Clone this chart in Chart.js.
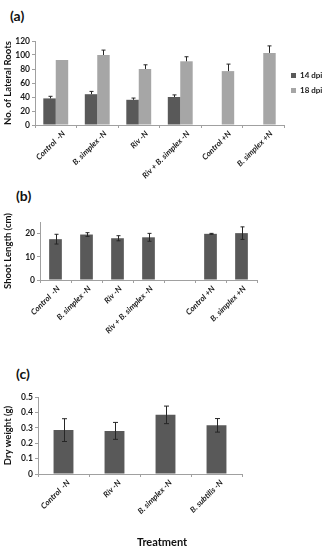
<!DOCTYPE html>
<html>
<head>
<meta charset="utf-8">
<script src="https://cdn.jsdelivr.net/npm/chart.js@4.4.1/dist/chart.umd.min.js"></script>
<style>
  body { margin: 0; background: #fff; width: 323px; height: 550px; position: relative; overflow: hidden; font-family: Lato, "Open Sans", sans-serif; }
  .wrap { position: absolute; left: 0; width: 323px; }
  .tag { position: absolute; font-weight: bold; font-size: 14px; color: #111; }
  #treat { position: absolute; top: 535px; left: 162px; transform: translateX(-50%); font-weight: bold; font-size: 11px; color: #111; }
</style>
</head>
<body>
<div class="tag" style="left:10px;top:7px;">(a)</div>
<div class="tag" style="left:16px;top:187px;">(b)</div>
<div class="tag" style="left:16px;top:365px;">(c)</div>
<div class="wrap" style="top:28px;height:160px;"><canvas id="chartA"></canvas></div>
<div class="wrap" style="top:180px;height:180px;"><canvas id="chartB"></canvas></div>
<div class="wrap" style="top:360px;height:190px;"><canvas id="chartC"></canvas></div>
<div id="treat">Treatment</div>
<script>
// (a) lateral roots
var rootLabels = ['Control  -N', 'B. simplex -N', 'Riv -N', 'Riv + B. simplex -N', 'Control +N', 'B. simplex +N'];
var roots14 = [38, 44, 36, 40, null, null];
var roots14Err = [3, 4, 2.5, 3, 0, 0];
var roots18 = [93, 100, 80, 91, 77, 103];
var roots18Err = [0, 7, 6, 6.5, 10, 10];

// (b) shoot length
var shootLabels = ['Control  -N', 'B. simplex -N', 'Riv -N', 'Riv + B. simplex -N', '', 'Control +N', 'B. simplex +N'];
var shootLen = [17.6, 19.6, 18.0, 18.4, null, 19.9, 20.2];
var shootErr = [2.1, 0.8, 1.1, 1.7, 0, 0.2, 2.7];

// (c) dry weight
var dryLabels = ['Control  -N', 'Riv -N', 'B. simplex -N', 'B. subtilis -N'];
var dryWeight = [0.285, 0.28, 0.384, 0.316];
var dryErr = [0.074, 0.055, 0.057, 0.044];

var DARK = '#595959';
var LIGHT = '#a6a6a6';
var FONT = 'Lato, "Open Sans", sans-serif';

var errorBars = {
  id: 'errorBars',
  afterDatasetsDraw: function(chart) {
    var ctx = chart.ctx;
    var y = chart.scales.y;
    chart.data.datasets.forEach(function(ds, di) {
      if (!ds.errors) return;
      var meta = chart.getDatasetMeta(di);
      meta.data.forEach(function(bar, i) {
        var v = ds.data[i], e = ds.errors[i];
        if (v == null || !e) return;
        var top = y.getPixelForValue(v + e);
        var bot = ds.upOnly ? y.getPixelForValue(v) : y.getPixelForValue(v - e);
        var x = Math.round(bar.x) + 0.5;
        var cap = ds.capWidth || 2;
        ctx.save();
        ctx.strokeStyle = '#262626';
        ctx.lineWidth = 1;
        ctx.beginPath();
        ctx.moveTo(x, top); ctx.lineTo(x, bot);
        ctx.moveTo(x - cap, top); ctx.lineTo(x + cap, top);
        if (!ds.upOnly) { ctx.moveTo(x - cap, bot); ctx.lineTo(x + cap, bot); }
        ctx.stroke();
        ctx.restore();
      });
    });
  }
};

function xAxis(height, shift) {
  return {
    grid: { drawOnChartArea: false, drawTicks: true, tickLength: 3, color: '#a0a0a0', offset: true },
    border: { color: '#a0a0a0' },
    ticks: { minRotation: 45, maxRotation: 45, autoSkip: false, padding: 1, labelOffset: shift, color: '#1a1a1a',
             font: { family: FONT, size: 8, weight: 'bold', style: 'italic' } },
    afterFit: function(s) { s.height = height; }
  };
}

function yAxis(width, title, max, step) {
  return {
    min: 0, max: max,
    grid: { drawOnChartArea: false, drawTicks: true, tickLength: 3, color: '#a0a0a0' },
    border: { color: '#a0a0a0' },
    ticks: { stepSize: step, padding: 2, color: '#1a1a1a', font: { family: FONT, size: 8.5, weight: 'bold' } },
    title: { display: true, text: title, color: '#111', padding: { top: 2, bottom: 0 },
             font: { family: FONT, size: 9.5, weight: 'bold' } },
    afterFit: function(s) { s.width = width; }
  };
}

new Chart(document.getElementById('chartA'), {
  type: 'bar',
  data: {
    labels: rootLabels,
    datasets: [
      { label: '14 dpi', data: roots14, errors: roots14Err, upOnly: true, capWidth: 2, backgroundColor: DARK,
        categoryPercentage: 0.6, barPercentage: 1.0 },
      { label: '18 dpi', data: roots18, errors: roots18Err, upOnly: true, capWidth: 2, backgroundColor: LIGHT,
        categoryPercentage: 0.6, barPercentage: 1.0 }
    ]
  },
  options: {
    responsive: true, maintainAspectRatio: false, animation: false,
    layout: { padding: { top: 13, right: 0, left: 0, bottom: 0 } },
    plugins: {
      legend: { position: 'right', fullSize: false, maxWidth: 39,
        labels: { boxWidth: 5, boxHeight: 5, padding: 7, color: '#1a1a1a',
                  font: { family: FONT, size: 8, weight: 'bold', lineHeight: 0.4 } } },
      tooltip: { enabled: false }
    },
    scales: { x: xAxis(63, 8), y: yAxis(35, 'No. of Lateral Roots', 120, 20) }
  },
  plugins: [errorBars]
});

new Chart(document.getElementById('chartB'), {
  type: 'bar',
  data: {
    labels: shootLabels,
    datasets: [
      { label: 'Shoot length', data: shootLen, errors: shootErr, capWidth: 2, backgroundColor: DARK,
        categoryPercentage: 0.41, barPercentage: 1.0 }
    ]
  },
  options: {
    responsive: true, maintainAspectRatio: false, animation: false,
    layout: { padding: { top: 42, right: 66, left: 0, bottom: 0 } },
    plugins: { legend: { display: false }, tooltip: { enabled: false } },
    scales: { x: xAxis(80, 3), y: yAxis(40, 'Shoot Length (cm)', 25, 5) }
  },
  plugins: [errorBars]
});

new Chart(document.getElementById('chartC'), {
  type: 'bar',
  data: {
    labels: dryLabels,
    datasets: [
      { label: 'Dry weight', data: dryWeight, errors: dryErr, capWidth: 2.5, backgroundColor: DARK,
        categoryPercentage: 0.39, barPercentage: 1.0 }
    ]
  },
  options: {
    responsive: true, maintainAspectRatio: false, animation: false,
    layout: { padding: { top: 37, right: 81, left: 0, bottom: 0 } },
    plugins: { legend: { display: false }, tooltip: { enabled: false } },
    scales: { x: xAxis(76, 5), y: yAxis(38, 'Dry weight (g)', 0.5, 0.1) }
  },
  plugins: [errorBars]
});
</script>
</body>
</html>
